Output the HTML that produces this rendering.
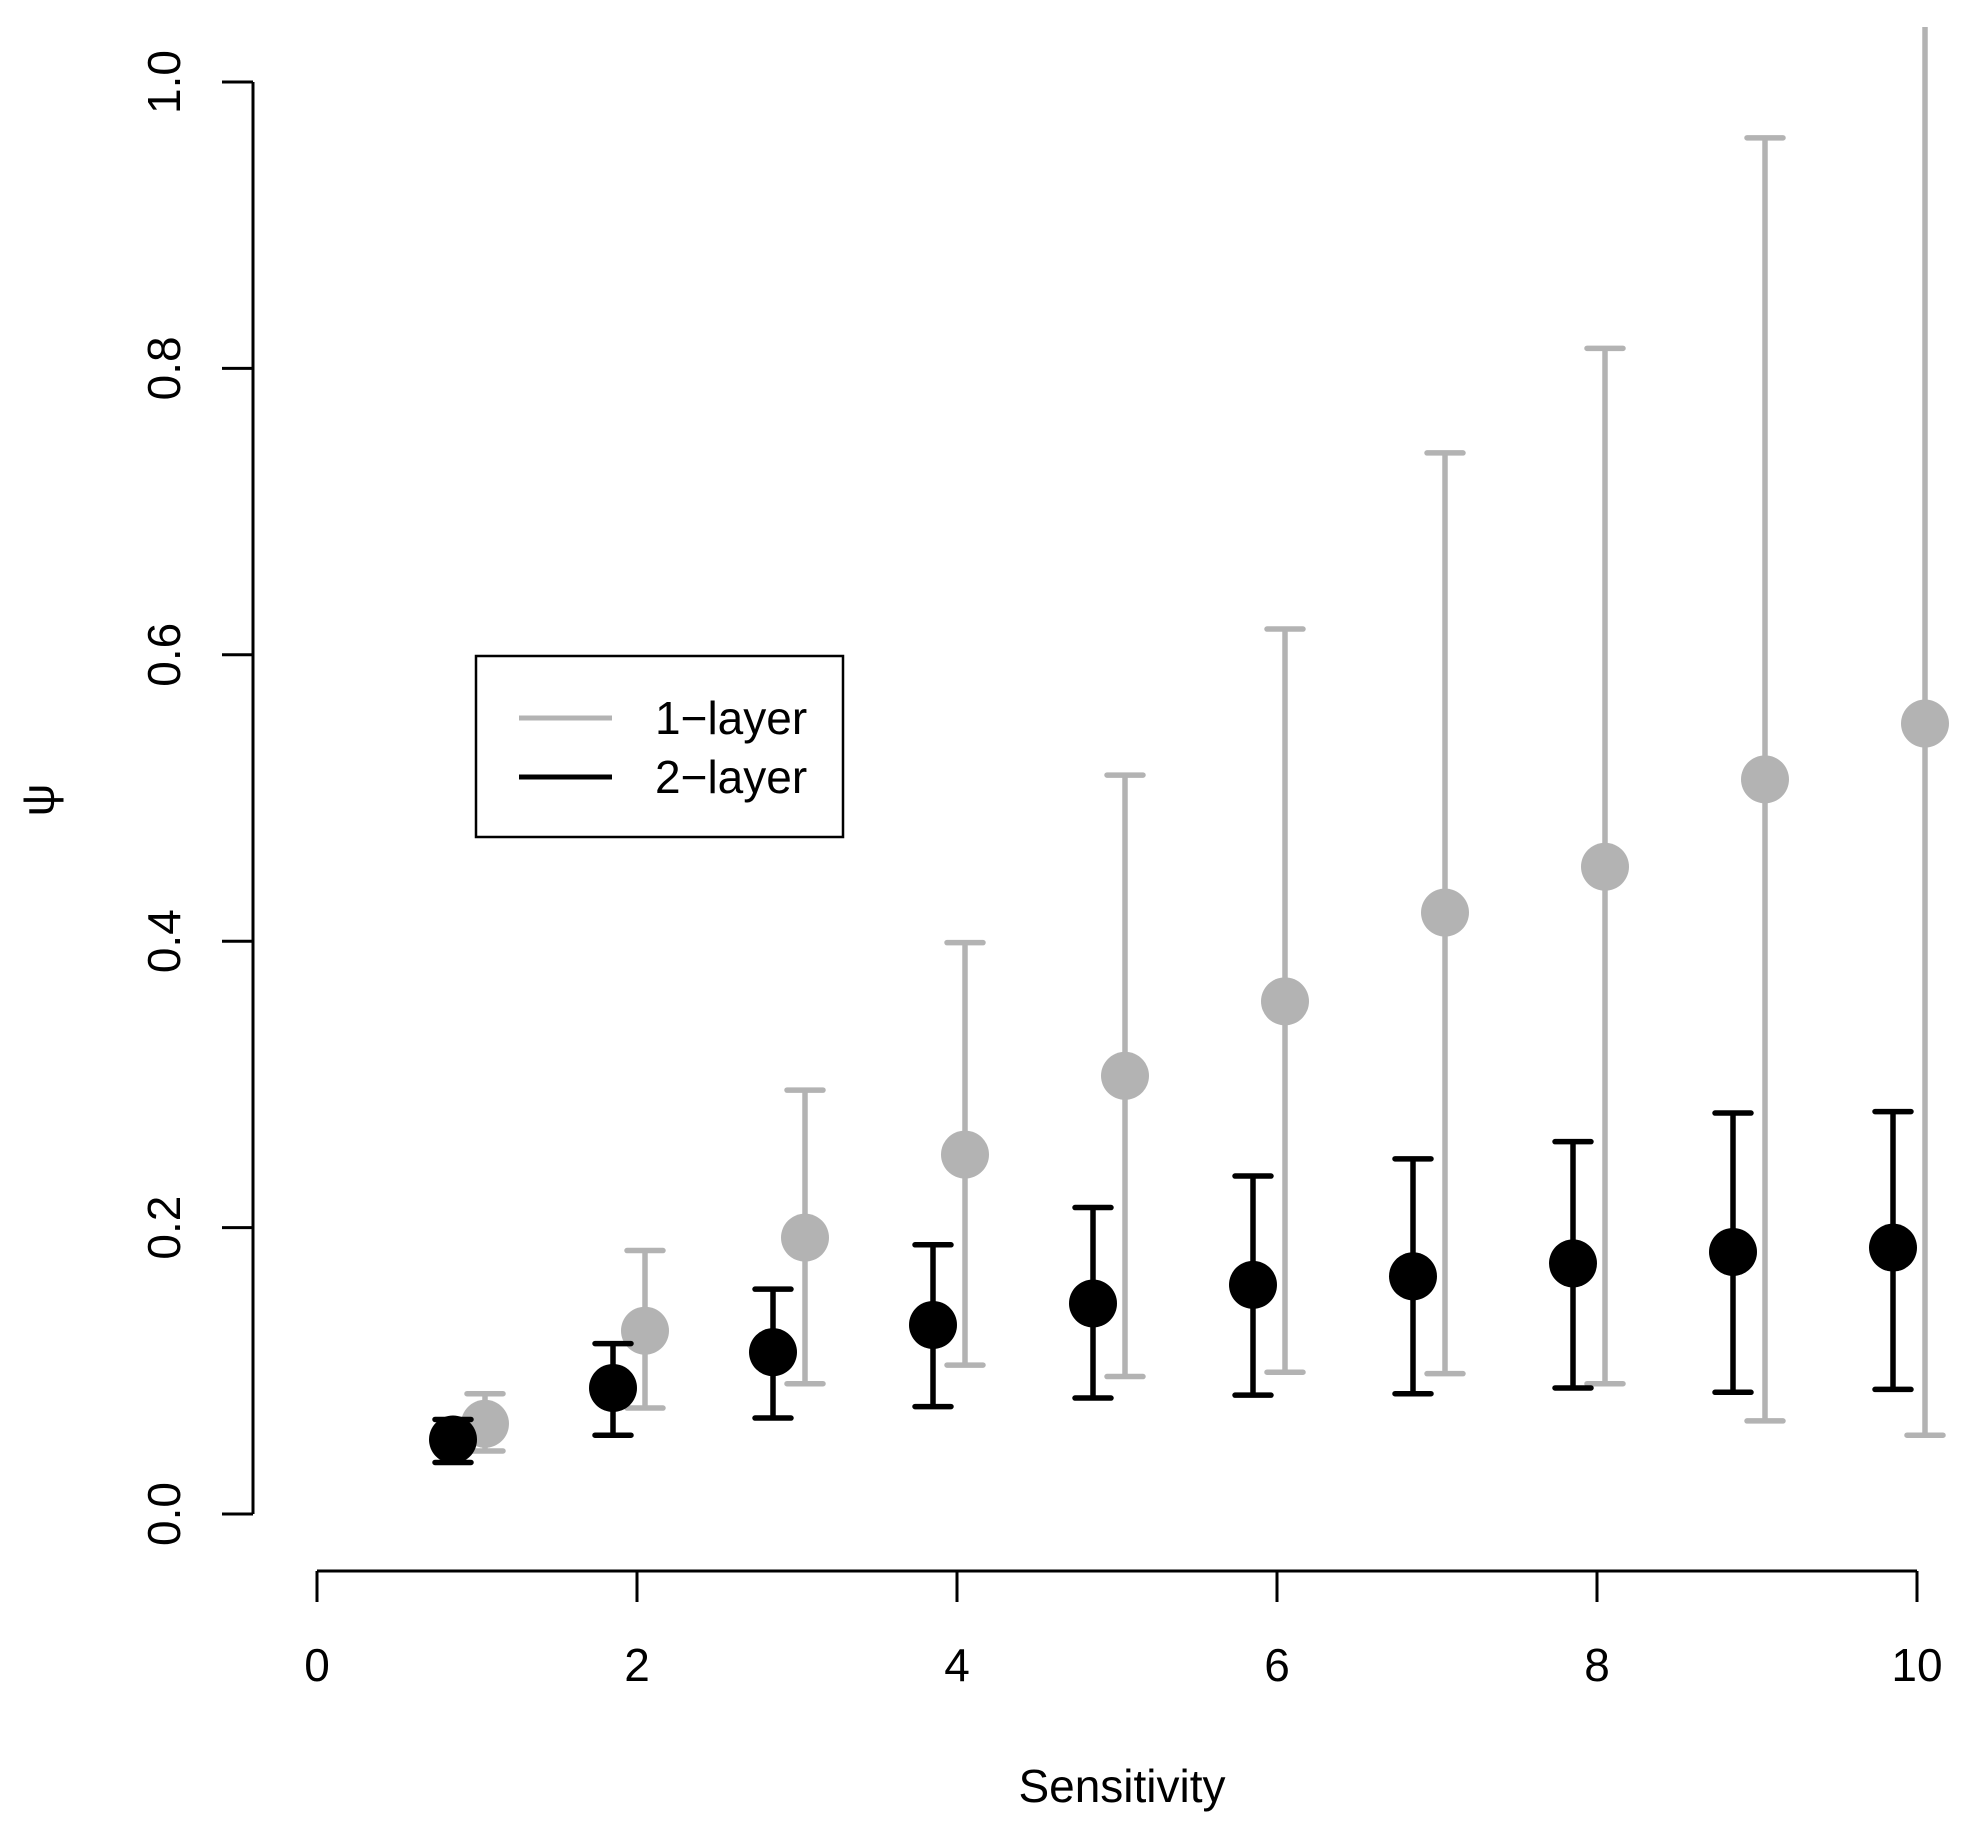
<!DOCTYPE html>
<html><head><meta charset="utf-8"><style>
html,body{margin:0;padding:0;background:#fff}
svg text{font-family:"Liberation Sans",sans-serif;fill:#000}
</style></head><body>
<svg id="chart" width="1974" height="1834" viewBox="0 0 1974 1834" xmlns="http://www.w3.org/2000/svg">
<defs><clipPath id="plotclip"><rect x="230" y="27" width="1744" height="1527"/></clipPath></defs>
<g id="axes"></g>
<g id="series" clip-path="url(#plotclip)"></g>
<g id="legend">
<rect x="476" y="656" width="367" height="181" fill="#fff" stroke="#000" stroke-width="2.5"/>
<line x1="519" y1="718" x2="612" y2="718" stroke="#b3b3b3" stroke-width="5"/>
<text x="655" y="734" font-size="46">1−layer</text>
<line x1="519" y1="777" x2="612" y2="777" stroke="#000" stroke-width="5"/>
<text x="655" y="793" font-size="46">2−layer</text>
</g>
</svg>
<script>
const xTicks = [0, 2, 4, 6, 8, 10];
const yTicks = [0.0, 0.2, 0.4, 0.6, 0.8, 1.0];
const sensitivity = [1, 2, 3, 4, 5, 6, 7, 8, 9, 10];
const oneLayerMean = [0.063, 0.128, 0.193, 0.251, 0.306, 0.358, 0.420, 0.452, 0.513, 0.552];
const oneLayerUpper = [0.084, 0.184, 0.296, 0.399, 0.516, 0.618, 0.741, 0.814, 0.961, 1.041];
const oneLayerLower = [0.044, 0.074, 0.091, 0.104, 0.096, 0.099, 0.098, 0.091, 0.065, 0.055];
const twoLayerMean = [0.052, 0.088, 0.113, 0.132, 0.147, 0.160, 0.166, 0.175, 0.183, 0.186];
const twoLayerUpper = [0.066, 0.119, 0.157, 0.188, 0.214, 0.236, 0.248, 0.260, 0.280, 0.281];
const twoLayerLower = [0.036, 0.055, 0.067, 0.075, 0.081, 0.083, 0.084, 0.088, 0.085, 0.087];

const NS = "http://www.w3.org/2000/svg";
const xs = v => 317 + v * 160.0;
const ys = v => 1514 - v * 1432;
function mk(tag, attrs, parent, txt){
  const e = document.createElementNS(NS, tag);
  for (const k in attrs) e.setAttribute(k, attrs[k]);
  if (txt !== undefined) e.textContent = txt;
  parent.appendChild(e);
  return e;
}
const axes = document.getElementById('axes');
const series = document.getElementById('series');

let l = mk('line', {x1:253, y1:ys(0), x2:253, y2:ys(1), stroke:'#000', 'stroke-width':3}, axes);


yTicks.forEach(t => {
  const tk = mk('line', {x1:222, y1:ys(t), x2:253, y2:ys(t), stroke:'#000', 'stroke-width':3}, axes);
  
  
  const tx = mk('text', {x:0, y:0, 'font-size':46, 'text-anchor':'middle', transform:`translate(180 ${ys(t)}) rotate(-90)`}, axes, t.toFixed(1));
  
  
});
l = mk('line', {x1:xs(0), y1:1571, x2:xs(10), y2:1571, stroke:'#000', 'stroke-width':3}, axes);


xTicks.forEach(t => {
  const tk = mk('line', {x1:xs(t), y1:1571, x2:xs(t), y2:1602, stroke:'#000', 'stroke-width':3}, axes);
  
  
  const tx = mk('text', {x:xs(t), y:1681, 'font-size':46, 'text-anchor':'middle'}, axes, String(t));
  
  
});
let at = mk('text', {x:1122, y:1802, 'font-size':46, 'text-anchor':'middle'}, axes, 'Sensitivity');


at = mk('text', {x:0, y:0, 'font-size':46, 'text-anchor':'middle', transform:'translate(54 800) rotate(-90)'}, axes, 'ψ');



function drawSeries(name, color, offset, mean, lo, hi){
  const g = mk('g', {}, series);
  
  
  sensitivity.forEach((s, i) => {
    const x = xs(s + offset);
    const e = mk('path', {d:`M${x},${ys(lo[i])}V${ys(hi[i])}M${x-18},${ys(lo[i])}H${x+18}M${x-18},${ys(hi[i])}H${x+18}`, stroke:color, 'stroke-width':5.5, 'stroke-linecap':'round', fill:'none'}, g);
    
    
    const c = mk('circle', {cx:x, cy:ys(mean[i]), r:24, fill:color}, g);
    
    
  });
}
drawSeries('one-layer', '#b3b3b3', 0.05, oneLayerMean, oneLayerLower, oneLayerUpper);
drawSeries('two-layer', '#000000', -0.15, twoLayerMean, twoLayerLower, twoLayerUpper);
</script>
</body></html>
